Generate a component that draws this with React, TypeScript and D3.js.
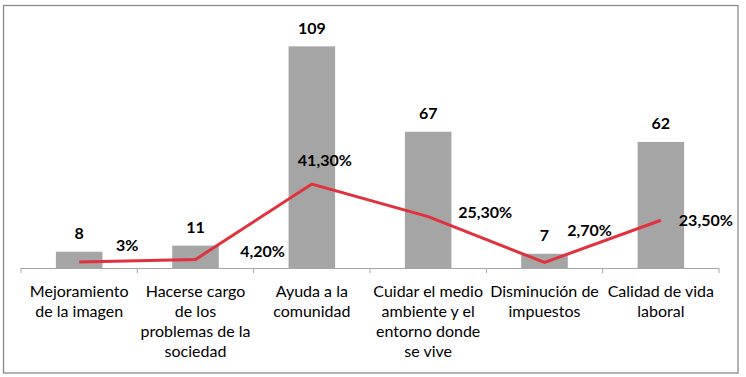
import React from "react";
import * as d3 from "d3";

const categories: string[][] = [
  ["Mejoramiento", "de la imagen"],
  ["Hacerse cargo", "de los", "problemas de la", "sociedad"],
  ["Ayuda a la", "comunidad"],
  ["Cuidar el medio", "ambiente y el", "entorno donde", "se vive"],
  ["Disminución de", "impuestos"],
  ["Calidad de vida", "laboral"],
];
const counts: number[] = [8, 11, 109, 67, 7, 62];
const percents: number[] = [3, 4.2, 41.3, 25.3, 2.7, 23.5];
const percentLabels: string[] = ["3%", "4,20%", "41,30%", "25,30%", "2,70%", "23,50%"];
// label placement offsets (dx, dy) relative to each line point
const pctLabelOffset: [number, number][] = [
  [48, -11],
  [67, -2],
  [13, -18],
  [57, 1.5],
  [45, -26.5],
  [45, 6],
];

const W = 746;
const H = 377;
const left = 21;
const right = 719;
const base = 268;
const top = 24;

export default function App() {
  const keys = categories.map((_, i) => String(i));
  const x = d3.scaleBand<string>().domain(keys).range([left, right]).paddingInner(0.6).paddingOuter(0.3);
  const y = d3.scaleLinear().domain([0, 120]).range([base, top]);
  const step = x.step();
  const cx = (i: number) => (x(keys[i]) as number) + x.bandwidth() / 2;
  const line = d3
    .line<number>()
    .x((_, i) => cx(i))
    .y((d) => y(d));
  const font = "Lato, 'Open Sans', sans-serif";
  const ticks = d3.range(categories.length + 1).map((i) => left + i * step);

  return (
    <>
      <style>{"body{margin:0}"}</style>
      <svg width={W} height={H} style={{ display: "block" }} fontFamily={font}>
        <rect x={0} y={0} width={W} height={H} fill="#fff" />
        <rect x={3.5} y={5.5} width={734.5} height={367.5} fill="none" stroke="#8a8a8a" strokeWidth={1.3} />
        {counts.map((v, i) => (
          <rect key={"b" + i} x={x(keys[i])} y={y(v)} width={x.bandwidth()} height={base - y(v)} fill="#a5a5a5" />
        ))}
        <line x1={left} x2={right} y1={base + 0.5} y2={base + 0.5} stroke="#a6a6a6" strokeWidth={1} />
        {ticks.map((t, i) => (
          <line key={"t" + i} x1={t} x2={t} y1={base} y2={base + 5} stroke="#a6a6a6" strokeWidth={1} />
        ))}
        <path d={line(percents) || ""} fill="none" stroke="#e0323c" strokeWidth={3} strokeLinejoin="miter" />
        {counts.map((v, i) => (
          <text key={"c" + i} x={cx(i)} y={y(v) - 12.5} textAnchor="middle" fontWeight="bold" fontSize={16} fill="#000">
            {v}
          </text>
        ))}
        {percents.map((v, i) => (
          <text
            key={"p" + i}
            x={cx(i) + pctLabelOffset[i][0]}
            y={y(v) + pctLabelOffset[i][1]}
            textAnchor="middle"
            fontWeight="bold"
            fontSize={16}
            fill="#000"
          >
            {percentLabels[i]}
          </text>
        ))}
        {categories.map((lines, i) => (
          <text key={"l" + i} x={cx(i)} textAnchor="middle" fontSize={16} fill="#000">
            {lines.map((s, j) => (
              <tspan key={j} x={cx(i)} y={296.7 + j * 20.2}>
                {s}
              </tspan>
            ))}
          </text>
        ))}
      </svg>
    </>
  );
}
